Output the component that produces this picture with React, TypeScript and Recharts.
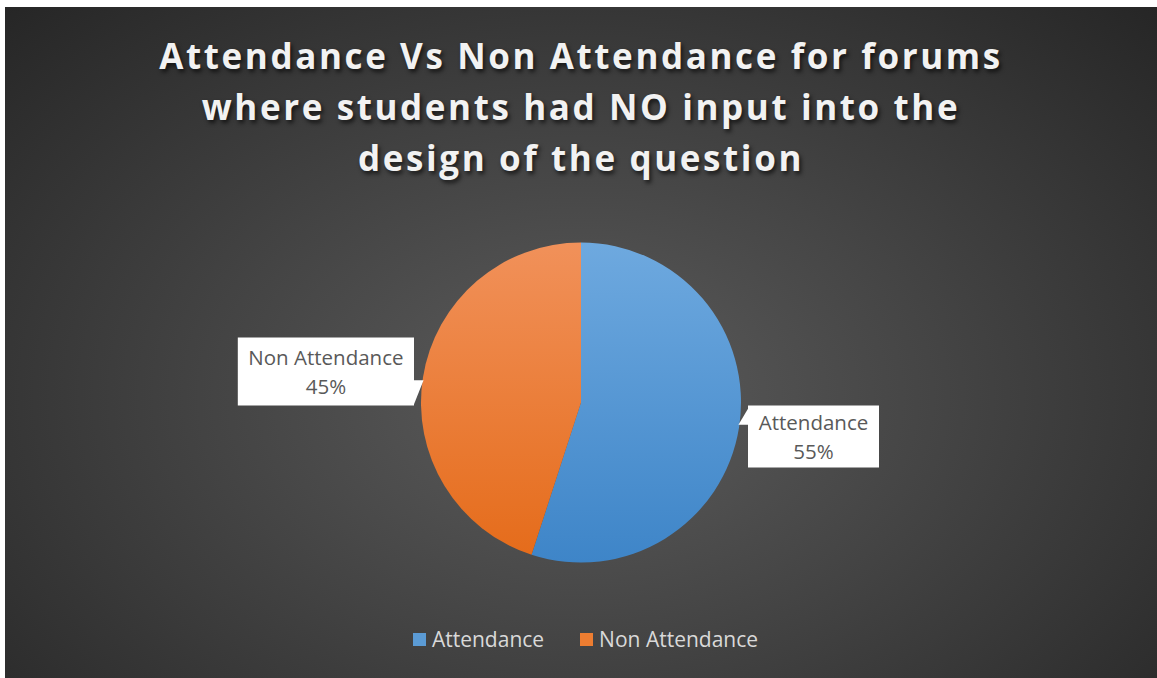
import { PieChart, Pie, Cell, Legend } from 'recharts';

// chart data
const categories = ['Attendance', 'Non Attendance'];
const values = [55, 45];
const titleLines = [
  'Attendance Vs Non Attendance for forums',
  'where students had NO input into the',
  'design of the question',
];

const colors = [
  { id: 'gradBlue', top: '#6ea9df', bottom: '#3e85c8', swatch: '#5b9bd5' },
  { id: 'gradOrange', top: '#f1915a', bottom: '#e56c1b', swatch: '#ed7d31' },
];

// callout layout (relative to pie centre): box centre y and pointer tip angle
const calloutLayout = [
  { boxDy: 34, boxH: 62, tipDeg: -8, pointer: 'up' },
  { boxDy: -31, boxH: 68, tipDeg: 172, pointer: 'down' },
];

const data = categories.map((name, i) => ({ name, value: values[i] }));

const W = 1152;
const H = 671;
const CX = 571;
const CY = 390.5;
const R = 160;
const LABEL_FONT = '"Open Sans", "Noto Sans", sans-serif';

const RAD = Math.PI / 180;

function renderCallout(props: any) {
  const { cx, cy, outerRadius, index, name, percent } = props;
  const lay = calloutLayout[index];
  const right = index === 0;
  const boxW = name.length * 11.3 + 18;
  const gap = 7;
  const edgeX = right ? cx + outerRadius + gap : cx - outerRadius - gap;
  const boxX = right ? edgeX : edgeX - boxW;
  const boxY = cy + lay.boxDy - lay.boxH / 2;
  const tipX = cx + outerRadius * Math.cos(lay.tipDeg * RAD) + (right ? -1 : 1);
  const tipY = cy - outerRadius * Math.sin(lay.tipDeg * RAD);
  const pts =
    lay.pointer === 'up'
      ? `${edgeX},${tipY - 16} ${tipX},${tipY} ${edgeX},${tipY}`
      : `${edgeX},${tipY} ${tipX},${tipY} ${edgeX},${tipY + 24}`;
  const midX = boxX + boxW / 2;
  const midY = cy + lay.boxDy;
  return (
    <g>
      <rect x={boxX} y={boxY} width={boxW} height={lay.boxH} fill="#ffffff" />
      <polygon points={pts} fill="#ffffff" />
      <text x={midX} y={midY - 14.5} textAnchor="middle" dominantBaseline="central"
        fill="#595959" fontSize={20.5} fontFamily={LABEL_FONT}>{name}</text>
      <text x={midX} y={midY + 14.5} textAnchor="middle" dominantBaseline="central"
        fill="#595959" fontSize={20.5} fontFamily={LABEL_FONT}>{`${Math.round(percent * 100)}%`}</text>
    </g>
  );
}

function LegendContent() {
  return (
    <div style={{ display: 'flex', justifyContent: 'center', alignItems: 'center', gap: 36, paddingLeft: 9 }}>
      {categories.map((c, i) => (
        <div key={c} style={{ display: 'flex', alignItems: 'center' }}>
          <span style={{ width: 13, height: 13, background: colors[i].swatch, display: 'inline-block', marginRight: 6 }} />
          <span style={{ color: '#d9d9d9', fontSize: 21, fontFamily: LABEL_FONT }}>{c}</span>
        </div>
      ))}
    </div>
  );
}

export default function App() {
  return (
    <div style={{ position: 'absolute', left: 0, top: 0, width: 1157, height: 678, background: '#ffffff' }}>
      <div
        style={{
          position: 'absolute',
          left: 5,
          top: 7,
          width: W,
          height: H,
          background: 'radial-gradient(ellipse at 50% 58%, #5c5c5c 0%, #444444 45%, #262626 100%)',
        }}
      >
        <div
          style={{
            position: 'absolute',
            top: 23,
            left: 0,
            width: W,
            textAlign: 'center',
            color: '#f2f2f2',
            fontFamily: LABEL_FONT,
            fontWeight: 700,
            fontSize: 35,
            letterSpacing: 2.6,
            lineHeight: '51px',
            textShadow: '2px 3px 4px rgba(0,0,0,0.65)',
          }}
        >
          {titleLines.map((l) => (
            <div key={l}>{l}</div>
          ))}
        </div>
        <div style={{ position: 'absolute', left: 0, top: 0 }}>
          <PieChart width={W} height={H}>
            <defs>
              {colors.map((c) => (
                <linearGradient key={c.id} id={c.id} x1="0" y1="0" x2="0" y2="1">
                  <stop offset="0%" stopColor={c.top} />
                  <stop offset="100%" stopColor={c.bottom} />
                </linearGradient>
              ))}
            </defs>
            <Pie
              data={data}
              dataKey="value"
              nameKey="name"
              cx={CX}
              cy={CY}
              outerRadius={R}
              startAngle={90}
              endAngle={-270}
              stroke="none"
              label={renderCallout}
              labelLine={false}
              isAnimationActive={false}
            >
              {data.map((d, i) => (
                <Cell key={d.name} fill={`url(#${colors[i].id})`} />
              ))}
            </Pie>
            <Legend
              content={<LegendContent />}
              wrapperStyle={{ position: 'absolute', top: 618, left: 0, width: W, height: 28 }}
            />
          </PieChart>
        </div>
      </div>
    </div>
  );
}
